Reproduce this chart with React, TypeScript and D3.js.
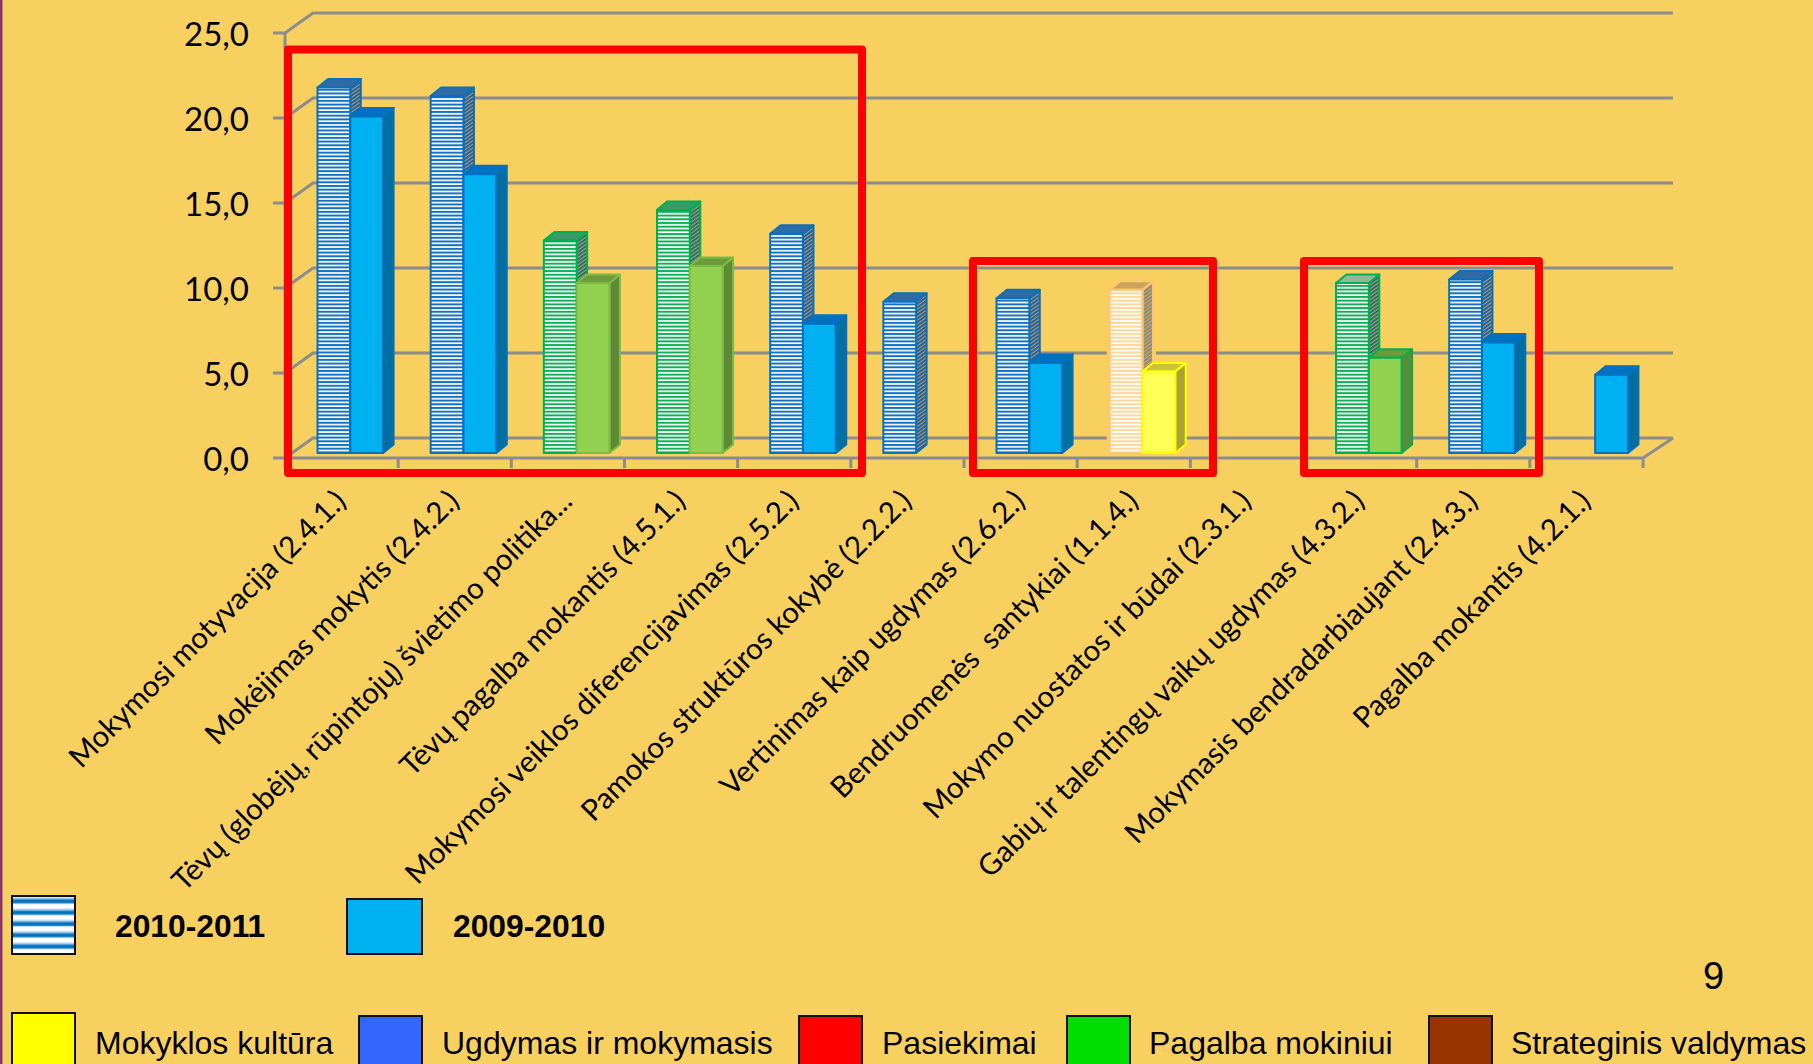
import React from "react";
import * as d3 from "d3";

const categories = [
  "Mokymosi motyvacija (2.4.1.)",
  "Mokėjimas mokytis (2.4.2.)",
  "Tėvų (globėjų, rūpintojų) švietimo politika...",
  "Tėvų pagalba mokantis (4.5.1.)",
  "Mokymosi veiklos diferencijavimas (2.5.2.)",
  "Pamokos struktūros kokybė (2.2.2.)",
  "Vertinimas kaip ugdymas (2.6.2.)",
  "Bendruomenės  santykiai (1.1.4.)",
  "Mokymo nuostatos ir būdai (2.3.1.)",
  "Gabių ir talentingų vaikų ugdymas (4.3.2.)",
  "Mokymasis bendradarbiaujant (2.4.3.)",
  "Pagalba mokantis (4.2.1.)",
];
const values2010: (number | null)[] = [21.5, 21.0, 12.5, 14.3, 12.9, 8.9, 9.1, 9.6, null, 10.0, 10.2, null];
const values2009: (number | null)[] = [19.8, 16.4, 10.0, 11.0, 7.6, null, 5.3, 4.8, null, 5.6, 6.5, 4.6];
const groups = ["blue", "blue", "green", "green", "blue", "blue", "blue", "yellow", "blue", "green2", "blue", "blue"];
const yTicks = [0, 5, 10, 15, 20, 25];
const tickLabel = (v: number) => v.toFixed(1).replace(".", ",");

const BG = "#F7D060";
const GRID = "#8C8C8C";
const palette: Record<string, any> = {
  blue: { solid: "#00B0F0", side: "#006FA0", top: "#0070C0", edge: "#0070C0", stripe: "#1571BE", hEdge: "#0A70BE", hTop: "#2F6CA6", sideA: "#2F5878", sideB: "#8FA3B0" },
  green: { solid: "#92D050", side: "#5F8A35", top: "#6D9A3B", edge: "#7DBB45", stripe: "#12AD58", hEdge: "#00B050", hTop: "#3A9A6A", sideA: "#2F6852", sideB: "#90A898" },
  green2: { solid: "#92D050", side: "#5F8A35", top: "#6D9A3B", edge: "#00B050", stripe: "#12AD58", hEdge: "#00B050", hTop: "#8FB89A", sideA: "#2F6852", sideB: "#90A898" },
  yellow: { solid: "#FFFF55", side: "#A9A235", top: "#C9C43E", edge: "#FFFF00", stripe: "#FFD79A", hEdge: "#FFC570", hTop: "#CBA45A", sideA: "#8E8468", sideB: "#BDAE80" },
};

const legendYears = [
  { label: "2010-2011", sx: 12, sw: 63, tx: 115, kind: "stripes" },
  { label: "2009-2010", sx: 347, sw: 75, tx: 453, kind: "solid" },
];
const legendAreas = [
  { label: "Mokyklos kultūra", color: "#FFFF00", x: 12, w: 63, y: 1013, tx: 95 },
  { label: "Ugdymas ir mokymasis", color: "#3366FF", x: 359, w: 63, y: 1016, tx: 442 },
  { label: "Pasiekimai", color: "#FF0000", x: 799, w: 63, y: 1016, tx: 882 },
  { label: "Pagalba mokiniui", color: "#00DD00", x: 1067, w: 63, y: 1016, tx: 1149 },
  { label: "Strateginis valdymas", color: "#993300", x: 1429, w: 63, y: 1016, tx: 1511 },
];
const redBoxes = [
  [288, 49.5, 862, 473],
  [973, 261, 1213, 473],
  [1304, 261, 1539, 473],
];

const x = d3.scaleBand<number>().domain(d3.range(categories.length)).range([285, 1643]).paddingInner(0).paddingOuter(0);
const y = d3.scaleLinear().domain([0, 25]).range([458, 33]);
const BACK_DX = 28, BACK_DY = 20, TICK = 12;
const BAR_OFF = 32.5, BAR_W = 32.8, BAR_DX = 10.5, BAR_DY = 8.5, BASE_SHIFT = 5;
const line = d3.line<[number, number]>();

function Bar({ i, v, slot }: { i: number; v: number; slot: 0 | 1 }) {
  const g = groups[i];
  const p = palette[g];
  const x0 = x(i)! + BAR_OFF + slot * BAR_W;
  const x1 = x0 + BAR_W;
  const base = y(0) - BASE_SHIFT;
  const t = y(v) - BASE_SHIFT;
  const hatched = slot === 0;
  const edge = hatched ? p.hEdge : p.edge;
  const face = hatched ? `url(#stripes-${g})` : p.solid;
  const side = hatched ? `url(#side-${g})` : p.side;
  const topFill = hatched ? p.hTop : p.top;
  const common = { stroke: edge, strokeWidth: 2, strokeLinejoin: "round" as const };
  const closed = (pts: [number, number][]) => line(pts) + "Z";
  return (
    <g>
      {g === "yellow" && hatched && (
        <rect x={x0 - 3} y={t - BAR_DY - 3} width={BAR_W + BAR_DX + 6} height={base - t + BAR_DY + 6} fill={BG} />
      )}
      <path d={closed([[x1, t], [x1 + BAR_DX, t - BAR_DY], [x1 + BAR_DX, base - BAR_DY], [x1, base]])} fill={side} {...common} />
      <path d={closed([[x0, t], [x0 + BAR_DX, t - BAR_DY], [x1 + BAR_DX, t - BAR_DY], [x1, t]])} fill={topFill} {...common} />
      <rect x={x0} y={t} width={BAR_W} height={base - t} fill={face} {...common} />
    </g>
  );
}

export default function App() {
  const right = x.range()[1];
  return (
    <svg width={1813} height={1064} viewBox="0 0 1813 1064" style={{ position: "absolute", left: 0, top: 0, display: "block", background: BG }}>
      <defs>
        {Object.entries(palette).map(([k, p]: [string, any]) => (
          <React.Fragment key={k}>
            <pattern id={`stripes-${k}`} patternUnits="userSpaceOnUse" width={8} height={3.7}>
              <rect width={8} height={3.7} fill="#FFFFFF" />
              <rect width={8} height={2} fill={p.stripe} />
            </pattern>
            <pattern id={`side-${k}`} patternUnits="userSpaceOnUse" width={4} height={3} patternTransform="rotate(-35)">
              <rect width={4} height={3} fill={p.sideB} />
              <rect width={4} height={1.8} fill={p.sideA} />
            </pattern>
          </React.Fragment>
        ))}
        <linearGradient id="band" x1="0" x2="0" y1="0" y2="1">
          <stop offset="0" stopColor="#FFFFFF" />
          <stop offset="0.3" stopColor="#FFFFFF" />
          <stop offset="0.5" stopColor="#9CC6E8" />
          <stop offset="0.65" stopColor="#0070C0" />
          <stop offset="0.85" stopColor="#0070C0" />
          <stop offset="1" stopColor="#FFFFFF" />
        </linearGradient>
        <pattern id="legend-stripes" patternUnits="userSpaceOnUse" x={0} y={893} width={10} height={11.3}>
          <rect width={10} height={11.3} fill="url(#band)" />
        </pattern>
      </defs>

      <rect x={0} y={0} width={2.5} height={1064} fill="#86356A" />

      {/* walls and gridlines */}
      <g fill="none" stroke={GRID} strokeWidth={3}>
        <path d={line([[x.range()[0], y(25)], [x.range()[0], y(0)]])!} />
        {yTicks.map((t) => (
          <g key={t}>
            <path d={line([[x.range()[0] - TICK, y(t)], [x.range()[0], y(t)], [x.range()[0] + BACK_DX, y(t) - BACK_DY], [right + 30, y(t) - BACK_DY]])!} />
          </g>
        ))}
        <path d={line([[x.range()[0], y(0)], [right, y(0)], [right + 30, y(0) - BACK_DY]])!} />
        {d3.range(categories.length + 1).map((i) => {
          const tx = x.range()[0] + i * x.step();
          return <path key={i} d={line([[tx, y(0)], [tx, y(0) + 10]])!} />;
        })}
      </g>

      {/* y labels */}
      {yTicks.map((t) => (
        <text key={t} x={249} y={y(t) + 1.5} dy="0.36em" textAnchor="end" fontFamily="Lato" fontSize={33} fill="#000">
          {tickLabel(t)}
        </text>
      ))}

      {/* bars */}
      {categories.map((_, i) => (
        <g key={i}>
          {values2010[i] != null && <Bar i={i} v={values2010[i]!} slot={0} />}
          {values2009[i] != null && <Bar i={i} v={values2009[i]!} slot={1} />}
        </g>
      ))}

      {/* category labels */}
      {categories.map((c, i) => {
        const cx = x(i)! + x.bandwidth() / 2 + 6;
        return (
          <text key={c} transform={`translate(${cx},503) rotate(-45)`} textAnchor="end" fontFamily="Lato" fontSize={29.5} fill="#000" style={{ whiteSpace: "pre" }}>
            {c}
          </text>
        );
      })}

      {/* highlight boxes */}
      {redBoxes.map(([a, b, c, d], i) => (
        <rect key={i} x={a} y={b} width={c - a} height={d - b} fill="none" stroke="#FF0000" strokeWidth={8} strokeLinejoin="round" />
      ))}

      {/* legends */}
      {legendYears.map((l) => (
        <g key={l.label}>
          <rect x={l.sx} y={l.kind === "solid" ? 899 : 896} width={l.sw} height={l.kind === "solid" ? 55 : 58} fill={l.kind === "solid" ? "#00B0F0" : "url(#legend-stripes)"} stroke="#111" strokeWidth={2} />
          <text x={l.tx} y={937} fontFamily="Liberation Sans" fontWeight="bold" fontSize={31.8} fill="#000">{l.label}</text>
        </g>
      ))}
      {legendAreas.map((l) => (
        <g key={l.label}>
          <rect x={l.x} y={l.y} width={l.w} height={70} fill={l.color} stroke="#111" strokeWidth={2} />
          <text x={l.tx} y={1054} fontFamily="Liberation Sans" fontSize={32} fill="#000">{l.label}</text>
        </g>
      ))}
      <text x={1703} y={989} fontFamily="Liberation Sans" fontSize={38} fill="#000">9</text>
    </svg>
  );
}
